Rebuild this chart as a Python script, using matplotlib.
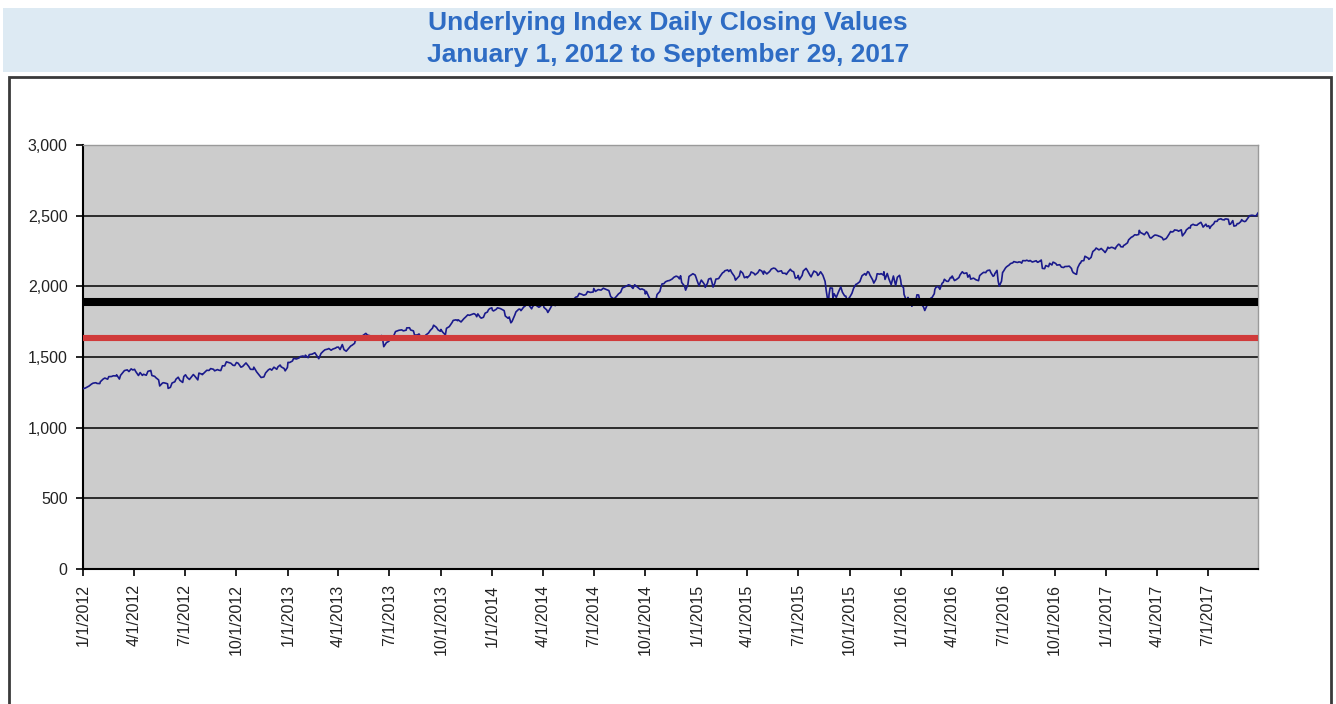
import numpy as np
import pandas as pd
import matplotlib
matplotlib.use("Agg")
import matplotlib.pyplot as plt
import matplotlib.dates as mdates
from matplotlib.patches import Rectangle

# ---------------- data (index closes, per month) ----------------
close_2012 = [
    [1277, 1280, 1289, 1295, 1308, 1315, 1318, 1313, 1312],
    [1325, 1344, 1351, 1343, 1361, 1362, 1367, 1366],
    [1374, 1344, 1370, 1395, 1404, 1409, 1397, 1416, 1408],
    [1413, 1398, 1369, 1390, 1370, 1378, 1371, 1399, 1403],
    [1405, 1369, 1363, 1354, 1338, 1295, 1316, 1318, 1313, 1310],
    [1278, 1285, 1316, 1325, 1343, 1357, 1335, 1320, 1362],
    [1374, 1355, 1341, 1356, 1376, 1363, 1338, 1386, 1379],
    [1375, 1395, 1406, 1405, 1418, 1413, 1402, 1411, 1406],
    [1404, 1438, 1437, 1466, 1460, 1456, 1441, 1440],
    [1461, 1456, 1428, 1433, 1458, 1433, 1413, 1412],
    [1428, 1395, 1380, 1355, 1359, 1387, 1409, 1416],
    [1407, 1418, 1428, 1413, 1430, 1443, 1430, 1419, 1402, 1426],
]
close_2013 = [
    [1462, 1461, 1472, 1490, 1486, 1494, 1503, 1507, 1498],
    [1513, 1495, 1517, 1520, 1530, 1512, 1488, 1515],
    [1525, 1541, 1551, 1556, 1560, 1548, 1556, 1563, 1569],
    [1570, 1553, 1588, 1552, 1541, 1555, 1578, 1582, 1597],
    [1614, 1626, 1633, 1650, 1667, 1655, 1650, 1631],
    [1640, 1623, 1643, 1622, 1652, 1628, 1573, 1603, 1606],
    [1615, 1631, 1652, 1680, 1689, 1692, 1685, 1690],
    [1706, 1707, 1691, 1685, 1655, 1656, 1663, 1634, 1632],
    [1639, 1655, 1670, 1688, 1704, 1725, 1710, 1692, 1682],
    [1695, 1677, 1656, 1703, 1715, 1744, 1759, 1763, 1757],
    [1763, 1748, 1771, 1782, 1798, 1795, 1802, 1807],
    [1800, 1785, 1805, 1782, 1775, 1781, 1810, 1818, 1834, 1842, 1848],
]
close_2014 = [
    [1831, 1826, 1838, 1848, 1843, 1839, 1828, 1790, 1774, 1783],
    [1742, 1751, 1797, 1819, 1838, 1839, 1828, 1854, 1859],
    [1873, 1878, 1868, 1841, 1858, 1872, 1866, 1852, 1857, 1872],
    [1891, 1851, 1833, 1815, 1842, 1864, 1879, 1863, 1878, 1884],
    [1883, 1878, 1896, 1878, 1870, 1888, 1900, 1912, 1924],
    [1927, 1950, 1943, 1937, 1942, 1963, 1957, 1960],
    [1985, 1964, 1977, 1973, 1987, 1978, 1970, 1930],
    [1925, 1910, 1931, 1946, 1958, 1988, 1997, 2003],
    [2011, 2007, 1985, 2011, 1994, 1978, 1982, 1972],
    [1946, 1964, 1928, 1906, 1874, 1886, 1904, 1942, 1964, 1994, 2018],
    [2018, 2032, 2039, 2041, 2052, 2064, 2072, 2068],
    [2053, 2075, 2027, 2002, 1973, 2012, 2070, 2081, 2089, 2080, 2059],
]
close_2015 = [
    [2046, 2003, 2026, 2044, 2023, 2011, 1993, 2022, 2051, 2057, 2029, 1995],
    [2021, 2051, 2055, 2068, 2096, 2100, 2110, 2116, 2105],
    [2117, 2099, 2071, 2044, 2053, 2074, 2108, 2093, 2061, 2068],
    [2060, 2081, 2102, 2092, 2081, 2097, 2117, 2108, 2086],
    [2108, 2088, 2105, 2122, 2129, 2126, 2104, 2107],
    [2110, 2093, 2092, 2084, 2097, 2121, 2110, 2102, 2058, 2063],
    [2077, 2047, 2077, 2108, 2127, 2115, 2079, 2067, 2108, 2104],
    [2098, 2077, 2084, 2103, 2091, 2079, 2035, 1971, 1868, 1940, 1989, 1987],
    [1914, 1948, 1922, 1942, 1961, 1996, 1958, 1932, 1931, 1881, 1920],
    [1923, 1951, 1987, 2014, 2017, 2033, 2053, 2075, 2090, 2079],
    [2104, 2100, 2081, 2045, 2023, 2051, 2089, 2086, 2090, 2080],
    [2103, 2049, 2091, 2052, 2012, 2043, 2073, 2006, 2064, 2078, 2044],
]
close_2016 = [
    [2012, 1990, 1943, 1922, 1891, 1922, 1880, 1881, 1859, 1906, 1878, 1893, 1940],
    [1939, 1903, 1880, 1852, 1829, 1865, 1895, 1917, 1921, 1948],
    [1978, 1993, 1999, 1979, 2022, 2028, 2050, 2036, 2035, 2063, 2060],
    [2073, 2041, 2047, 2062, 2081, 2103, 2091, 2095, 2065],
    [2081, 2051, 2058, 2053, 2047, 2040, 2076, 2090, 2099, 2097],
    [2105, 2112, 2115, 2097, 2071, 2077, 2089, 2113, 2038, 2001, 2036, 2099],
    [2103, 2129, 2138, 2152, 2161, 2166, 2175, 2170, 2169, 2173],
    [2171, 2164, 2182, 2181, 2185, 2178, 2183, 2172, 2176, 2181, 2171],
    [2170, 2180, 2186, 2127, 2125, 2147, 2139, 2163, 2151, 2171, 2168],
    [2161, 2150, 2153, 2136, 2133, 2140, 2141, 2143, 2126],
    [2111, 2097, 2088, 2085, 2131, 2163, 2164, 2180, 2182, 2213, 2204, 2199],
    [2191, 2205, 2246, 2259, 2271, 2258, 2262, 2268, 2249, 2239],
]
close_2017 = [
    [2258, 2277, 2269, 2276, 2275, 2268, 2264, 2280, 2298, 2295, 2280, 2279],
    [2289, 2293, 2308, 2329, 2348, 2351, 2365, 2363, 2367],
    [2396, 2381, 2373, 2365, 2385, 2378, 2344, 2341, 2358, 2363, 2362],
    [2359, 2355, 2353, 2344, 2329, 2338, 2349, 2374, 2388, 2384],
    [2388, 2399, 2396, 2390, 2400, 2357, 2382, 2399, 2416, 2412],
    [2430, 2439, 2433, 2432, 2440, 2453, 2438, 2419, 2440, 2423],
    [2429, 2410, 2425, 2443, 2459, 2460, 2473, 2478, 2472, 2470],
    [2476, 2477, 2474, 2438, 2441, 2465, 2426, 2430, 2444, 2443, 2457, 2472],
    [2465, 2458, 2461, 2488, 2500, 2503, 2502, 2497, 2507, 2519],
]
years = [2012, 2013, 2014, 2015, 2016, 2017]
closes_by_year = [close_2012, close_2013, close_2014, close_2015, close_2016, close_2017]

barrier_black = 1889.52   # 75% of initial level
barrier_red = 1637.58     # 65% of initial level

start_date = "2012-01-01"
end_date = "2017-09-29"
title_lines = ["Underlying Index Daily Closing Values",
               "January 1, 2012 to September 29, 2017"]
y_ticks = [0, 500, 1000, 1500, 2000, 2500, 3000]

# ---------------- build the series ----------------
dates, values = [], []
for yr, months in zip(years, closes_by_year):
    for m, vals in enumerate(months, start=1):
        ms = pd.Timestamp(yr, m, 1)
        me = min(ms + pd.offsets.MonthEnd(0), pd.Timestamp(end_date))
        bd = pd.bdate_range(ms, me)
        idx = np.round(np.linspace(0, len(bd) - 1, len(vals))).astype(int)
        dates.extend(bd[idx])
        values.extend(vals)
dates = pd.DatetimeIndex(dates)

# ---------------- figure ----------------
plt.rcParams['font.family'] = ['Liberation Sans', 'DejaVu Sans']
fig = plt.figure(figsize=(13.36, 7.04), dpi=100)

# title banner
fig.patches.append(Rectangle((3 / 1336, 1 - 72 / 704), 1330 / 1336, 64 / 704,
                             transform=fig.transFigure, facecolor='#DDEAF3',
                             edgecolor='none', zorder=-2))
# outer frame
fig.patches.append(Rectangle((9 / 1336, -0.05), 1322 / 1336, 1.05 - 77 / 704,
                             transform=fig.transFigure, facecolor='none',
                             edgecolor='#3a3a3a', linewidth=2.0, zorder=-1))

for i, line in enumerate(title_lines):
    fig.text(0.5, 1 - (23 + 32 * i) / 704, line, ha='center', va='center',
             fontsize=19, fontweight='bold', color='#2E6CC4')

ax = fig.add_axes([83 / 1336, 1 - 569 / 704, (1258 - 83) / 1336, (569 - 145) / 704])
ax.set_facecolor('#CCCCCC')

x0 = mdates.date2num(pd.Timestamp(start_date))
x1 = mdates.date2num(pd.Timestamp(end_date))
ax.set_xlim(x0, x1)
ax.set_ylim(0, 3000)

for yv in y_ticks[1:-1]:
    ax.axhline(yv, color='black', linewidth=1.1, zorder=1)

ax.plot(dates, values, color='#1A1A8C', linewidth=1.2, zorder=3)
ax.axhline(barrier_black, color='black', linewidth=5.8, zorder=4)
ax.axhline(barrier_red, color='#D03A3A', linewidth=4.4, zorder=4)

ax.set_yticks(y_ticks)
ax.set_yticklabels([f"{v:,}" for v in y_ticks])

qticks = pd.date_range("2012-01-01", "2017-07-01", freq="QS")
ax.set_xticks(mdates.date2num(qticks))
ax.set_xticklabels([f"{d.month}/{d.day}/{d.year}" for d in qticks], rotation=90)

ax.tick_params(axis='both', direction='out', length=5, width=1.2, color='black',
               labelsize=11.5, labelcolor='#222222')
ax.tick_params(axis='y', pad=6)
ax.tick_params(axis='x', pad=6)

for s in ['left', 'bottom']:
    ax.spines[s].set_color('black')
    ax.spines[s].set_linewidth(1.5)
for s in ['top', 'right']:
    ax.spines[s].set_color('#9a9a9a')
    ax.spines[s].set_linewidth(1.0)

fig.savefig("out.png", dpi=100)
